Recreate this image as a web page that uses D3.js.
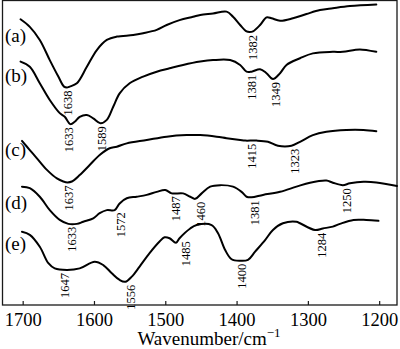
<!DOCTYPE html>
<html>
<head>
<meta charset="utf-8">
<script src="https://cdn.jsdelivr.net/npm/d3@7"></script>
<style>
  html, body { margin: 0; padding: 0; background: #fff; }
  svg { display: block; }
  text { font-family: "Liberation Serif", "Times New Roman", serif; fill: #000; }
</style>
</head>
<body>
<svg id="chart" width="400" height="349"></svg>
<script>
// FTIR spectra, stacked transmittance (a.u.) versus wavenumber (cm^-1)
const spectrumA = [
  [1703, 93.7], [1690, 91.2], [1676, 86.9], [1662, 80.3], [1650, 74.9], [1642, 71.6],
  [1638, 71.3], [1634, 71.6], [1624, 72.7], [1610, 78.1], [1596, 83.6], [1582, 86.9],
  [1568, 88.0], [1545, 88.5], [1531, 89.1], [1512, 90.2], [1498, 91.8], [1480, 93.4],
  [1461, 94.5], [1451, 95.1], [1433, 95.6], [1414, 96.2], [1405, 94.5], [1395, 91.8],
  [1386, 89.7], [1382, 89.5], [1377, 89.7], [1367, 91.8], [1358, 94.3], [1351, 94.0],
  [1339, 93.2], [1321, 94.0], [1302, 95.4], [1283, 96.7], [1265, 97.3], [1241, 98.0],
  [1204, 98.5]
];
const spectrumB = [
  [1703, 79.8], [1690, 78.1], [1676, 72.7], [1662, 67.2], [1648, 62.9], [1641, 61.7],
  [1633, 59.3], [1627, 60.1], [1620, 61.7], [1610, 62.3], [1601, 61.2], [1591, 59.6],
  [1582, 60.7], [1573, 65.0], [1564, 69.4], [1550, 72.7], [1531, 74.9], [1512, 76.5],
  [1494, 77.6], [1475, 78.7], [1451, 79.8], [1433, 80.3], [1409, 80.3], [1395, 78.7],
  [1386, 76.5], [1379, 76.5], [1367, 77.3], [1358, 76.0], [1349, 74.1], [1339, 76.0],
  [1330, 78.7], [1311, 80.9], [1293, 82.5], [1265, 83.0], [1251, 83.0], [1227, 83.8],
  [1204, 83.0]
];
const spectrumC = [
  [1701, 53.8], [1690, 50.8], [1680, 48.1], [1666, 44.3], [1652, 41.5], [1643, 40.5],
  [1637, 40.2], [1631, 40.5], [1620, 42.6], [1606, 45.9], [1592, 49.2], [1578, 51.4],
  [1568, 51.9], [1554, 53.0], [1526, 54.1], [1498, 55.2], [1470, 55.7], [1451, 55.7],
  [1428, 55.2], [1414, 54.7], [1395, 54.1], [1388, 53.9], [1372, 53.9], [1356, 53.5],
  [1342, 52.2], [1323, 52.2], [1311, 53.5], [1293, 55.7], [1274, 56.8], [1246, 57.4],
  [1222, 57.4], [1204, 57.0]
];
const spectrumD = [
  [1701, 38.8], [1690, 38.3], [1676, 35.5], [1662, 31.1], [1648, 27.9], [1636, 26.6],
  [1624, 26.6], [1615, 27.3], [1601, 28.4], [1592, 30.1], [1582, 31.1], [1571, 31.1],
  [1564, 33.3], [1554, 35.0], [1540, 35.5], [1526, 36.1], [1512, 37.1], [1500, 37.7],
  [1491, 36.6], [1475, 36.6], [1465, 35.5], [1458, 34.8], [1449, 36.6], [1437, 38.8],
  [1423, 39.3], [1405, 38.8], [1393, 37.1], [1386, 35.5], [1379, 35.3], [1363, 36.1],
  [1339, 37.1], [1316, 38.8], [1297, 40.1], [1274, 40.8], [1265, 40.1], [1251, 39.3],
  [1241, 39.9], [1222, 40.4], [1204, 40.2], [1175, 39.0]
];
const spectrumE = [
  [1701, 24.0], [1690, 23.0], [1676, 19.1], [1664, 13.7], [1655, 12.0], [1638, 11.5],
  [1620, 12.0], [1599, 14.2], [1587, 13.1], [1575, 10.4], [1564, 8.2], [1556, 7.6],
  [1547, 9.3], [1536, 12.6], [1522, 17.0], [1508, 20.8], [1501, 22.2], [1494, 21.9],
  [1485, 20.4], [1480, 21.9], [1465, 25.1], [1456, 26.2], [1435, 26.2], [1426, 23.5],
  [1416, 18.0], [1407, 15.0], [1395, 14.5], [1384, 14.8], [1374, 17.5], [1360, 21.3],
  [1349, 24.6], [1335, 26.8], [1316, 27.3], [1311, 26.8], [1290, 24.6], [1279, 25.1],
  [1265, 25.7], [1255, 26.6], [1236, 27.9], [1218, 27.9], [1201, 27.6]
];

const sampleNames = ["(a)", "(b)", "(c)", "(d)", "(e)"];
const spectra = [spectrumA, spectrumB, spectrumC, spectrumD, spectrumE];

// Peak annotations: sample index, stated band, wavenumber the label is centred on
const peakSample = [0, 0, 1, 1, 1, 1, 2, 2, 2, 3, 3, 3, 3, 3, 3, 4, 4, 4, 4, 4];
const peakText   = ["1638", "1382", "1633", "1589", "1381", "1349", "1637", "1415", "1323",
                    "1633", "1572", "1487", "1460", "1381", "1250",
                    "1647", "1556", "1485", "1400", "1284"];
const peakAt     = [1637, 1377, 1635, 1589, 1379, 1345, 1635, 1379, 1318,
                    1631, 1562, 1485, 1451, 1374, 1245,
                    1641, 1549, 1472, 1393, 1281];

const xTicks = [1700, 1600, 1500, 1400, 1300, 1200];
const xTitle = "Wavenumber/cm";

const W = 400, H = 349;
const frame = { left: 2, right: 397, top: 0.5, bottom: 305 };

const svg = d3.select("#chart");

const x = d3.scaleLinear().domain([1729, 1175]).range([frame.left, frame.right]);
const y = d3.scaleLinear().domain([0, 100]).range([frame.bottom, 0]);

// plot frame
svg.append("rect")
  .attr("x", frame.left + 0.5).attr("y", frame.top)
  .attr("width", frame.right - frame.left - 0.5)
  .attr("height", frame.bottom - frame.top)
  .attr("fill", "none").attr("stroke", "#1a1a1a").attr("stroke-width", 1.3);

// bottom axis with inward ticks
const axis = svg.append("g")
  .attr("transform", `translate(0,${frame.bottom})`)
  .call(d3.axisBottom(x).tickValues(xTicks).tickSizeInner(-4).tickSizeOuter(0).tickFormat(d3.format("d")));
axis.select(".domain").remove();
axis.selectAll(".tick line").attr("stroke", "#1a1a1a").attr("stroke-width", 1.2);
axis.selectAll(".tick text")
  .attr("y", 20.5).attr("dy", null)
  .attr("font-size", "18.5px")
  .attr("font-family", "Liberation Serif, serif")
  .attr("fill", "#000");

// axis title with superscript
const title = svg.append("text")
  .attr("x", 209).attr("y", 345)
  .attr("text-anchor", "middle")
  .attr("font-size", "19px");
title.append("tspan").text(xTitle);
title.append("tspan").attr("font-size", "13px").attr("dy", -8).text("\u22121");

// spectra
const line = d3.line()
  .x(d => x(d[0]))
  .y(d => y(d[1]))
  .curve(d3.curveCatmullRom.alpha(0.5));

svg.append("g").selectAll("path")
  .data(spectra)
  .join("path")
  .attr("d", line)
  .attr("fill", "none")
  .attr("stroke", "#000")
  .attr("stroke-width", 2)
  .attr("stroke-linejoin", "round")
  .attr("stroke-linecap", "round");

// sample labels
const nameBaselines = [41.5, 81.5, 156, 209, 250];
svg.append("g").selectAll("text")
  .data(sampleNames)
  .join("text")
  .attr("x", 5)
  .attr("y", (d, i) => nameBaselines[i])
  .attr("font-size", "19px")
  .text(d => d);

// lowest point of a spectrum within a window around a wavenumber
function troughNear(data, w, half) {
  let best = Infinity;
  for (let i = 0; i < data.length - 1; i++) {
    const [w0, v0] = data[i], [w1, v1] = data[i + 1];
    for (let k = 0; k <= 20; k++) {
      const t = k / 20;
      const ww = w0 + (w1 - w0) * t;
      if (Math.abs(ww - w) <= half) best = Math.min(best, v0 + (v1 - v0) * t);
    }
  }
  return best;
}

// peak labels, rotated, hanging just below the trough
svg.append("g").selectAll("text")
  .data(peakText.map((t, i) => ({ t, s: peakSample[i], at: peakAt[i] })))
  .join("text")
  .attr("transform", d => {
    const top = y(troughNear(spectra[d.s], d.at, 8)) + 3;
    return `translate(${x(d.at)},${top}) rotate(-90)`;
  })
  .attr("text-anchor", "end")
  .attr("dy", "0.35em")
  .attr("font-size", "12.5px")
  .text(d => d.t);
</script>
</body>
</html>
